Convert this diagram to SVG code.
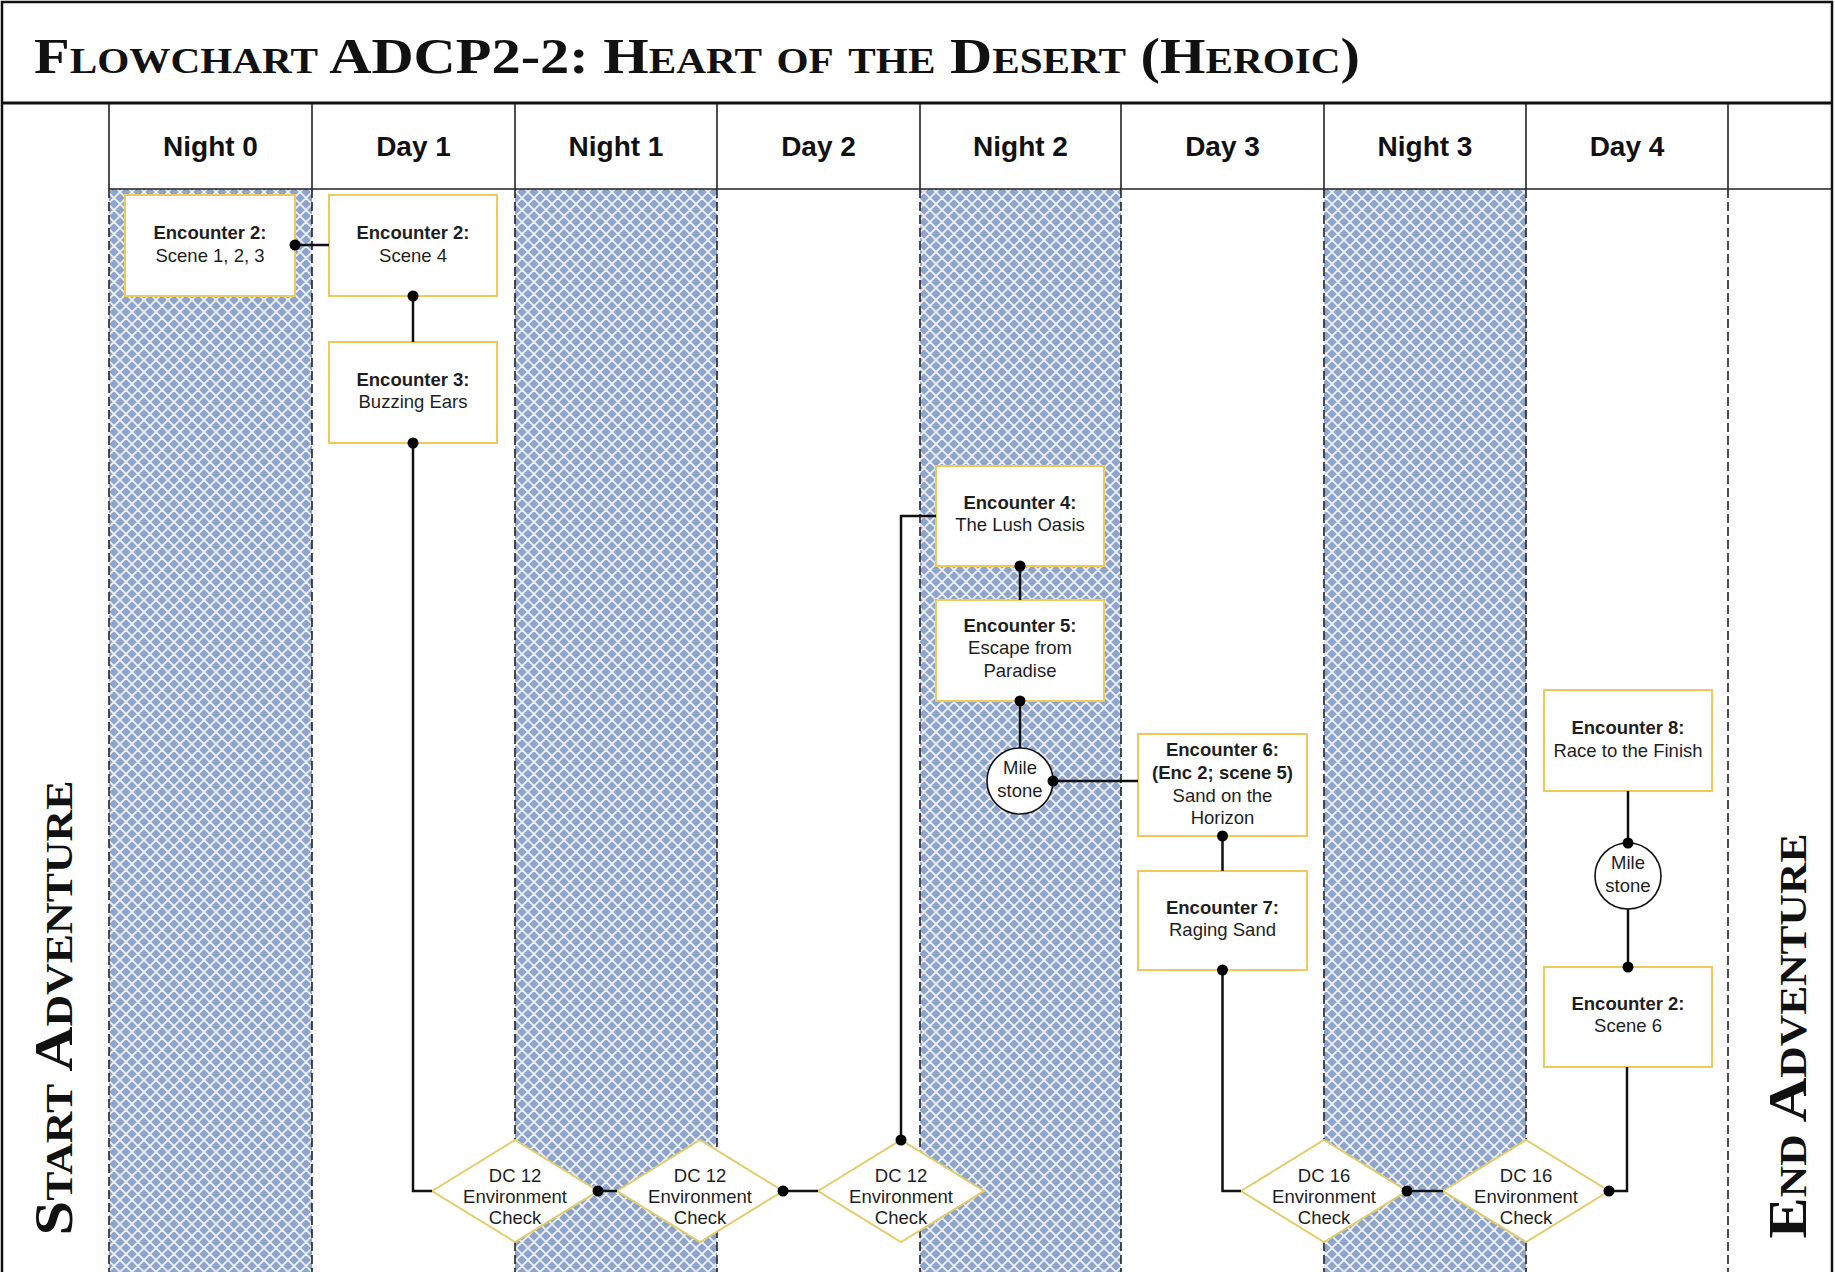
<svg xmlns="http://www.w3.org/2000/svg" width="1835" height="1272" viewBox="0 0 1835 1272">
<defs>
<pattern id="hatch" patternUnits="userSpaceOnUse" width="12" height="12">
<rect width="12" height="12" fill="#8fa4ca"/>
<path d="M0,0 L12,12 M12,0 L0,12 M-6,6 L6,-6 M6,18 L18,6 M6,-6 L18,6 M-6,6 L6,18" stroke="#eef2f8" stroke-width="1.7" fill="none"/>
</pattern>
</defs>
<style>
.box{fill:#fff;stroke:#efc95a;stroke-width:2}
.dia{fill:#fff;stroke:#e3cc6a;stroke-width:2}
.ms{fill:#fff;stroke:#111;stroke-width:1.6}
.t{font-family:"Liberation Sans",Arial,sans-serif;font-size:18.5px;fill:#1e1e1e;text-anchor:middle}
.b{font-weight:bold}
.hd{font-family:"Liberation Sans",Arial,sans-serif;font-size:28px;font-weight:bold;text-anchor:middle;fill:#111}
.ttl{font-family:"Liberation Serif","Times New Roman",serif;font-weight:bold;font-variant:small-caps;fill:#111}
.cl{stroke:#222;stroke-width:1.6}
.dl{stroke:#222;stroke-width:1.6;stroke-dasharray:9 4}
.cn{fill:none;stroke:#111;stroke-width:2.5}
.dot{fill:#000}
</style>
<rect x="0" y="0" width="1835" height="1272" fill="#fff"/>
<g id="lanes">
<rect x="109" y="189" width="203" height="1083" fill="url(#hatch)"/>
<rect x="515" y="189" width="202" height="1083" fill="url(#hatch)"/>
<rect x="920" y="189" width="201" height="1083" fill="url(#hatch)"/>
<rect x="1324" y="189" width="202" height="1083" fill="url(#hatch)"/>
<g class="dl">
<line x1="109" y1="189" x2="109" y2="1272"/>
<line x1="312" y1="189" x2="312" y2="1272"/>
<line x1="515" y1="189" x2="515" y2="1272"/>
<line x1="717" y1="189" x2="717" y2="1272"/>
<line x1="920" y1="189" x2="920" y2="1272"/>
<line x1="1121" y1="189" x2="1121" y2="1272"/>
<line x1="1324" y1="189" x2="1324" y2="1272"/>
<line x1="1526" y1="189" x2="1526" y2="1272"/>
<line x1="1728" y1="189" x2="1728" y2="1272"/>
</g>
<g class="cl">
<line x1="109" y1="103" x2="109" y2="189"/>
<line x1="312" y1="103" x2="312" y2="189"/>
<line x1="515" y1="103" x2="515" y2="189"/>
<line x1="717" y1="103" x2="717" y2="189"/>
<line x1="920" y1="103" x2="920" y2="189"/>
<line x1="1121" y1="103" x2="1121" y2="189"/>
<line x1="1324" y1="103" x2="1324" y2="189"/>
<line x1="1526" y1="103" x2="1526" y2="189"/>
<line x1="1728" y1="103" x2="1728" y2="189"/>
<line x1="109" y1="189" x2="1832" y2="189"/>
</g>
<line x1="2" y1="103" x2="1832" y2="103" stroke="#111" stroke-width="3"/>
<rect x="2" y="2" width="1830" height="1290" fill="none" stroke="#111" stroke-width="2.5"/>
</g>
<g id="headers">
<text class="hd" x="210.5" y="156">Night 0</text>
<text class="hd" x="413.5" y="156">Day 1</text>
<text class="hd" x="616" y="156">Night 1</text>
<text class="hd" x="818.5" y="156">Day 2</text>
<text class="hd" x="1020.5" y="156">Night 2</text>
<text class="hd" x="1222.5" y="156">Day 3</text>
<text class="hd" x="1425" y="156">Night 3</text>
<text class="hd" x="1627" y="156">Day 4</text>
</g>
<text id="title" class="ttl" x="34" y="73" font-size="51" textLength="1326" lengthAdjust="spacingAndGlyphs">Flowchart ADCP2-2: Heart of the Desert (Heroic)</text>
<text id="start" class="ttl" font-size="54" text-anchor="middle" transform="translate(72,1008) rotate(-90)" textLength="455" lengthAdjust="spacingAndGlyphs">Start Adventure</text>
<text id="end" class="ttl" font-size="54" text-anchor="middle" transform="translate(1806,1036) rotate(-90)" textLength="405" lengthAdjust="spacingAndGlyphs">End Adventure</text>

<g id="n_e2s123"><rect class="box" x="125" y="195" width="170" height="101"/>
<text class="t b" x="210" y="239">Encounter 2:</text><text class="t" x="210" y="262">Scene 1, 2, 3</text></g>
<g id="n_e2s4"><rect class="box" x="329" y="195" width="168" height="101"/>
<text class="t b" x="413" y="239">Encounter 2:</text><text class="t" x="413" y="262">Scene 4</text></g>
<g id="n_e3"><rect class="box" x="329" y="342" width="168" height="101"/>
<text class="t b" x="413" y="386">Encounter 3:</text><text class="t" x="413" y="408">Buzzing Ears</text></g>
<g id="n_e4"><rect class="box" x="936" y="466" width="168" height="100"/>
<text class="t b" x="1020" y="509">Encounter 4:</text><text class="t" x="1020" y="531">The Lush Oasis</text></g>
<g id="n_e5"><rect class="box" x="936" y="600" width="168" height="101"/>
<text class="t b" x="1020" y="632">Encounter 5:</text><text class="t" x="1020" y="654">Escape from</text><text class="t" x="1020" y="677">Paradise</text></g>
<g id="n_m1"><circle class="ms" cx="1020" cy="781" r="33"/>
<text class="t" x="1020" y="774">Mile</text><text class="t" x="1020" y="797">stone</text></g>
<g id="n_e6"><rect class="box" x="1138" y="734" width="169" height="102"/>
<text class="t b" x="1222.5" y="756">Encounter 6:</text><text class="t b" x="1222.5" y="779">(Enc 2; scene 5)</text><text class="t" x="1222.5" y="802">Sand on the</text><text class="t" x="1222.5" y="824">Horizon</text></g>
<g id="n_e7"><rect class="box" x="1138" y="871" width="169" height="99"/>
<text class="t b" x="1222.5" y="914">Encounter 7:</text><text class="t" x="1222.5" y="936">Raging Sand</text></g>
<g id="n_e8"><rect class="box" x="1544" y="690" width="168" height="101"/>
<text class="t b" x="1628" y="734">Encounter 8:</text><text class="t" x="1628" y="757">Race to the Finish</text></g>
<g id="n_m2"><circle class="ms" cx="1628" cy="876" r="33"/>
<text class="t" x="1628" y="869">Mile</text><text class="t" x="1628" y="892">stone</text></g>
<g id="n_e2s6"><rect class="box" x="1544" y="967" width="168" height="100"/>
<text class="t b" x="1628" y="1010">Encounter 2:</text><text class="t" x="1628" y="1032">Scene 6</text></g>

<g id="n_d1"><polygon class="dia" points="432,1191 515,1140 598,1191 515,1242"/>
<text class="t" x="515" y="1182">DC 12</text><text class="t" x="515" y="1203">Environment</text><text class="t" x="515" y="1224">Check</text></g>
<g id="n_d2"><polygon class="dia" points="617,1191 700,1140 783,1191 700,1242"/>
<text class="t" x="700" y="1182">DC 12</text><text class="t" x="700" y="1203">Environment</text><text class="t" x="700" y="1224">Check</text></g>
<g id="n_d3"><polygon class="dia" points="818,1191 901,1140 984,1191 901,1242"/>
<text class="t" x="901" y="1182">DC 12</text><text class="t" x="901" y="1203">Environment</text><text class="t" x="901" y="1224">Check</text></g>
<g id="n_d4"><polygon class="dia" points="1241,1191 1324,1140 1407,1191 1324,1242"/>
<text class="t" x="1324" y="1182">DC 16</text><text class="t" x="1324" y="1203">Environment</text><text class="t" x="1324" y="1224">Check</text></g>
<g id="n_d5"><polygon class="dia" points="1443,1191 1526,1140 1609,1191 1526,1242"/>
<text class="t" x="1526" y="1182">DC 16</text><text class="t" x="1526" y="1203">Environment</text><text class="t" x="1526" y="1224">Check</text></g>

<g id="connectors">
<path class="cn" d="M295,245 H329"/>
<path class="cn" d="M413,296 V342"/>
<path class="cn" d="M413,443 V1191 H432"/>
<path class="cn" d="M598,1191 H617"/>
<path class="cn" d="M783,1191 H818"/>
<path class="cn" d="M901,1140 V516 H936"/>
<path class="cn" d="M1020,566 V600"/>
<path class="cn" d="M1020,701 V748"/>
<path class="cn" d="M1053,781 H1138"/>
<path class="cn" d="M1222.5,836 V871"/>
<path class="cn" d="M1222.5,970 V1191 H1241"/>
<path class="cn" d="M1407,1191 H1443"/>
<path class="cn" d="M1609,1191 H1627 V1067"/>
<path class="cn" d="M1628,967 V909"/>
<path class="cn" d="M1628,843 V791"/>
<g class="dot">
<circle cx="295" cy="245" r="5.5"/>
<circle cx="413" cy="296" r="5.5"/>
<circle cx="413" cy="443" r="5.5"/>
<circle cx="598" cy="1191" r="5.5"/>
<circle cx="783" cy="1191" r="5.5"/>
<circle cx="901" cy="1140" r="5.5"/>
<circle cx="1020" cy="566" r="5.5"/>
<circle cx="1020" cy="701" r="5.5"/>
<circle cx="1053" cy="781" r="5.5"/>
<circle cx="1222.5" cy="836" r="5.5"/>
<circle cx="1222.5" cy="970" r="5.5"/>
<circle cx="1407" cy="1191" r="5.5"/>
<circle cx="1609" cy="1191" r="5.5"/>
<circle cx="1628" cy="967" r="5.5"/>
<circle cx="1628" cy="843" r="5.5"/>
</g>
</g>
</svg>
